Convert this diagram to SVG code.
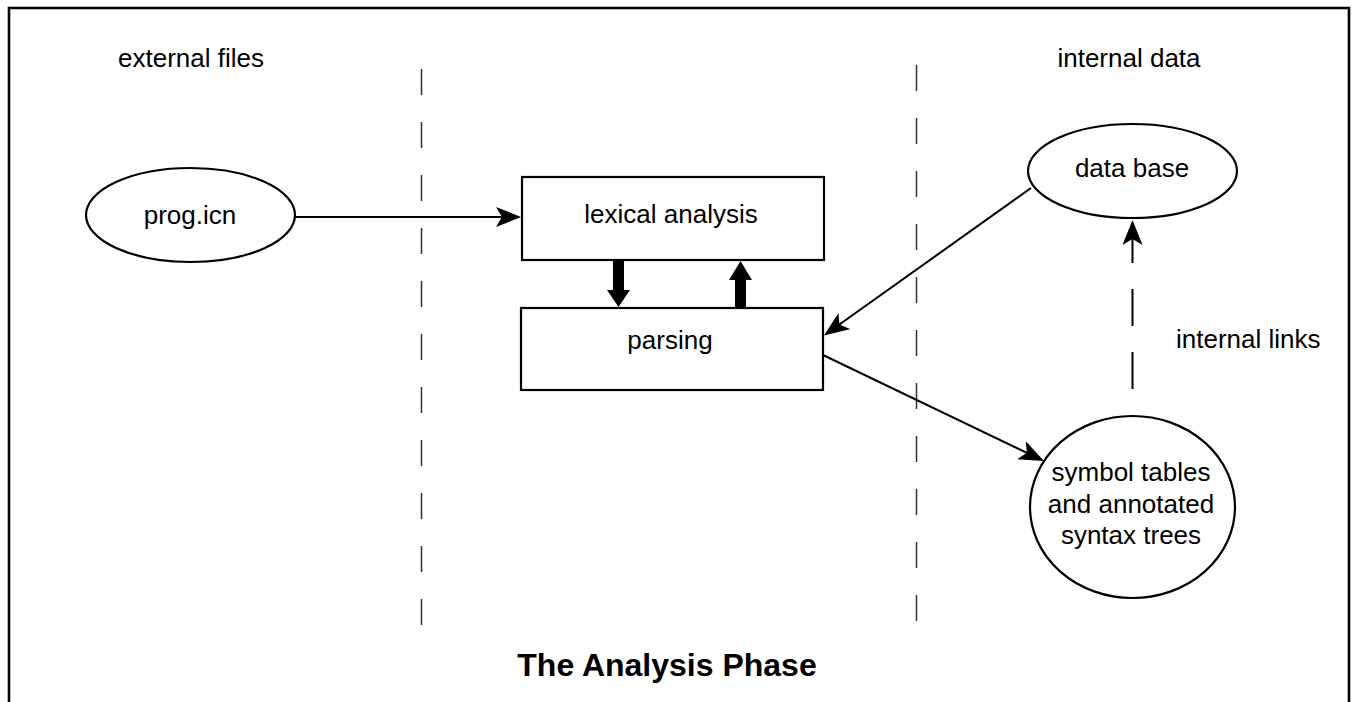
<svg xmlns="http://www.w3.org/2000/svg" width="1353" height="702" viewBox="0 0 1353 702">
<style>
  .lbl { font-family: "Liberation Sans", Arial, sans-serif; font-size: 26px; fill: #000; }
  .ttl { font-family: "Liberation Sans", Arial, sans-serif; font-size: 32px; font-weight: bold; fill: #000; }
  .shape { fill: #fff; stroke: #000; stroke-width: 2.2; }
  .conn { fill: none; stroke: #000; stroke-width: 2; }
  .divider { fill: none; stroke: #333; stroke-width: 1.5; stroke-dasharray: 26 27; }
  .thick { fill: #000; stroke: none; }
</style>
<defs>
  <marker id="ah" markerUnits="userSpaceOnUse" markerWidth="26" markerHeight="22" viewBox="0 0 26 22" refX="22" refY="11" orient="auto-start-reverse">
    <path d="M0,1 L25,11 L0,21 L6,11 Z" fill="#000"/>
  </marker>
</defs>

<g id="frame">
  <path d="M9,712 L9,8 L1349,8 L1349,712" fill="none" stroke="#000" stroke-width="2.6"/>
</g>

<g id="dividers">
  <line class="divider" x1="421.5" y1="69" x2="421.5" y2="628"/>
  <line class="divider" x1="916.5" y1="65" x2="916.5" y2="624"/>
</g>

<g id="section-labels">
  <text class="lbl" x="191" y="67" text-anchor="middle">external files</text>
  <text class="lbl" x="1129" y="67" text-anchor="middle">internal data</text>
</g>

<g id="connectors">
  <line class="conn" x1="295" y1="217" x2="518" y2="217" marker-end="url(#ah)"/>
  <line class="conn" x1="1031" y1="188" x2="826.4" y2="333.8" marker-end="url(#ah)"/>
  <line class="conn" x1="823" y1="355" x2="1041.3" y2="459.7" marker-end="url(#ah)"/>
  <line class="conn" x1="1132.5" y1="223" x2="1132.5" y2="416" stroke-dasharray="37 26" stroke-dashoffset="-3" marker-start="url(#ah)"/>
  <path class="thick" d="M613,259 L624,259 L624,290 L630,290 L618.5,307 L607,290 L613,290 Z"/>
  <path class="thick" d="M735,309 L746,309 L746,280 L752,280 L740.5,261 L729,280 L735,280 Z"/>
</g>

<g id="prog-icn">
  <ellipse class="shape" cx="190.5" cy="215" rx="104.5" ry="47"/>
  <text class="lbl" x="190" y="224" text-anchor="middle">prog.icn</text>
</g>

<g id="lexical-analysis">
  <rect class="shape" x="522" y="177" width="302" height="83"/>
  <text class="lbl" x="671" y="223" text-anchor="middle">lexical analysis</text>
</g>

<g id="parsing">
  <rect class="shape" x="521" y="308" width="302" height="82"/>
  <text class="lbl" x="670" y="349" text-anchor="middle">parsing</text>
</g>

<g id="data-base">
  <ellipse class="shape" cx="1132.5" cy="171" rx="104.5" ry="47"/>
  <text class="lbl" x="1132" y="177" text-anchor="middle">data base</text>
</g>

<g id="symbol-tables">
  <ellipse class="shape" cx="1132.5" cy="507" rx="102.5" ry="91"/>
  <text class="lbl" x="1131" y="481" text-anchor="middle">symbol tables</text>
  <text class="lbl" x="1131" y="513" text-anchor="middle">and annotated</text>
  <text class="lbl" x="1131" y="544" text-anchor="middle">syntax trees</text>
</g>

<g id="internal-links-label">
  <text class="lbl" x="1176" y="348">internal links</text>
</g>

<g id="title">
  <text class="ttl" x="667" y="676" text-anchor="middle">The Analysis Phase</text>
</g>
</svg>
